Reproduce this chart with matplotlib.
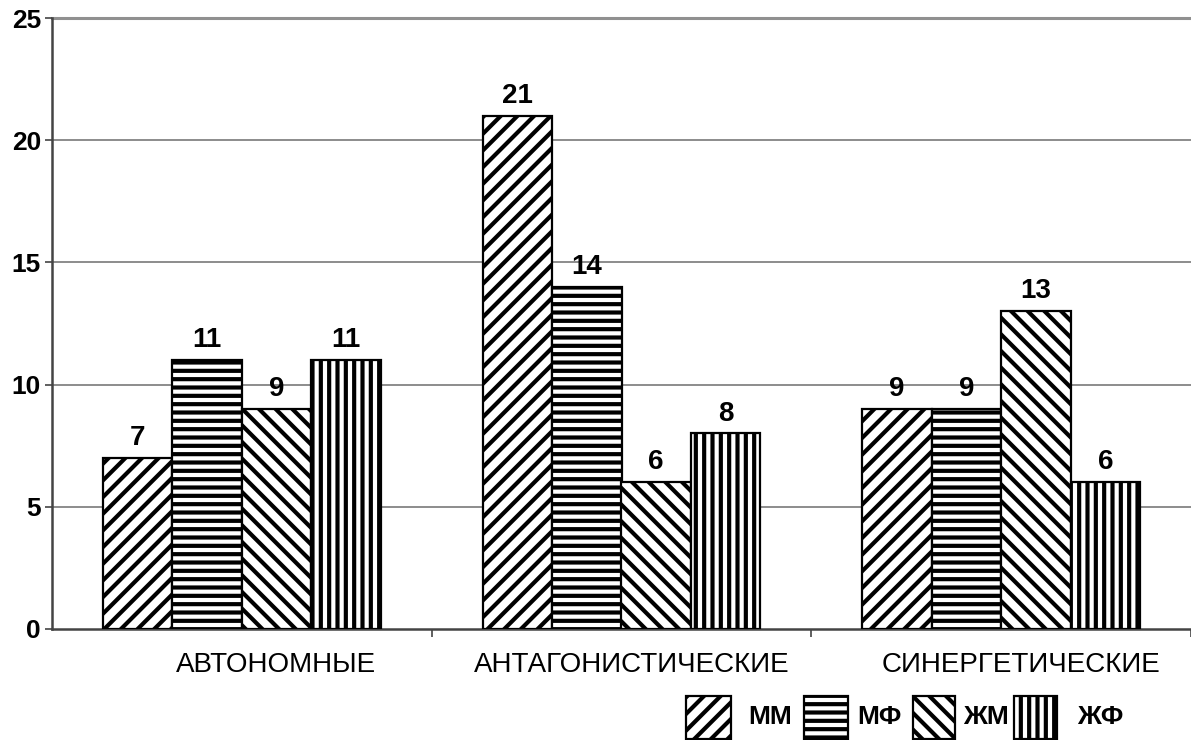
import matplotlib
matplotlib.use("Agg")
import matplotlib.pyplot as plt
from matplotlib.patches import Rectangle
import numpy as np

plt.rcParams['font.family'] = ['Liberation Sans', 'DejaVu Sans']
plt.rcParams['hatch.linewidth'] = 3.0
plt.rcParams['hatch.color'] = 'black'

categories = ['АВТОНОМНЫЕ', 'АНТАГОНИСТИЧЕСКИЕ', 'СИНЕРГЕТИЧЕСКИЕ']
series_names = ['ММ', 'МФ', 'ЖМ', 'ЖФ']
mm = [7, 21, 9]
mf = [11, 14, 9]
zhm = [9, 6, 13]
zhf = [11, 8, 6]
yticks = [0, 5, 10, 15, 20, 25]

series = [mm, mf, zhm, zhf]
hatches = ['//', '--', '\\\\', '||']

W, H = 1191, 740
fig = plt.figure(figsize=(W / 100, H / 100), dpi=100)
left, right, top, bottom = 52, 1191, 18, 629
unit = 386.0
ax = fig.add_axes([left / W, (H - bottom) / H, (right - left) / W, (bottom - top) / H])

x = np.arange(len(categories))
bw = 0.183
for i, (vals, name, h) in enumerate(zip(series, series_names, hatches)):
    xs = x + (i - 1.5) * bw
    ax.bar(xs, vals, bw, facecolor='white', edgecolor='black',
           linewidth=1.6, hatch=h, label=name, zorder=3)
    for xi, v in zip(xs, vals):
        ax.annotate(str(v), (xi, v), xytext=(0, 5), textcoords='offset points',
                    ha='center', va='bottom', fontsize=20, fontweight='bold')

ax.set_xlim(-0.5, -0.5 + (right - left) / unit)
ax.set_ylim(0, 25)
ax.set_yticks(yticks)
ax.set_yticklabels([str(t) for t in yticks], fontsize=19, fontweight='bold')
for t in yticks[1:-1]:
    ax.axhline(t, color='#6e6e6e', linewidth=1.1, zorder=1)
ax.axhline(25, color='#909090', linewidth=2.2, zorder=1, clip_on=False)

ax.set_xticks([0.5, 1.5, 2.5])
ax.set_xticklabels([])
ax.tick_params(axis='x', direction='out', length=6, width=1.2, color='#444444')
ax.tick_params(axis='y', direction='out', length=5, width=1.2, color='#444444', pad=3)

for s in ['top', 'right']:
    ax.spines[s].set_visible(False)
for s in ['left', 'bottom']:
    ax.spines[s].set_color('#444444')
    ax.spines[s].set_linewidth(1.8)

label_x = [0.089, 1.027, 2.052]
for lx, name in zip(label_x, categories):
    ax.text(lx, -1.76, name, ha='center', va='baseline', fontsize=20)

# legend: hatched swatches followed by bold series names
swatch_left = [686, 804, 913, 1014]
swatch_width = [45, 44, 42, 43]
text_left = [748, 857, 963, 1077]
sw_top, sw_bot = 696, 739
for name, h, sx, sw, tx in zip(series_names, hatches, swatch_left, swatch_width, text_left):
    fig.add_artist(Rectangle((sx / W, (H - sw_bot) / H), sw / W, (sw_bot - sw_top) / H,
                             transform=fig.transFigure, facecolor='white',
                             edgecolor='black', linewidth=1.6, hatch=h))
    fig.text(tx / W, (H - 724) / H, name, ha='left', va='baseline',
             fontsize=19, fontweight='bold')

fig.savefig('out.png', dpi=100)
